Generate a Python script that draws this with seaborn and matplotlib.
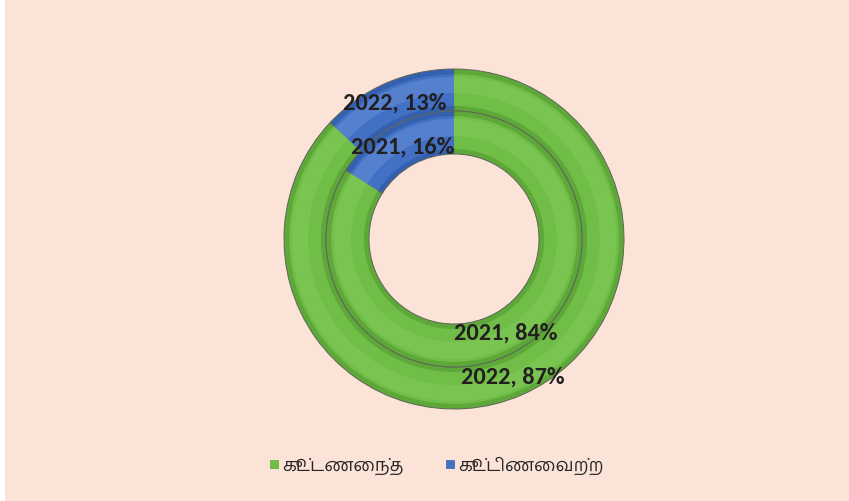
import matplotlib
matplotlib.use("Agg")
import numpy as np
import matplotlib.pyplot as plt
from matplotlib.lines import Line2D
import seaborn as sns

sns.set_style("white")
plt.rcParams['font.family'] = ['Carlito', 'Lato', 'DejaVu Sans']

# data (percent)
years = ["2021", "2022"]
categories = ["கூட்டணைந்த", "கூட்டிணைவற்ற"]
joined = [84, 87]        # கூட்டணைந்த (green)
not_joined = [16, 13]    # கூட்டிணைவற்ற (blue)

green, green_dark, green_light = "#70bd48", "#5ea83a", "#9ad96e"
blue, blue_dark, blue_light = "#4170c4", "#3560b0", "#8fb3ea"

fig = plt.figure(figsize=(8.49, 5.02), dpi=100)
fig.patch.set_facecolor("white")
# peach background panel (thin white margin at the left, as in the original)
fig.add_artist(plt.Rectangle((5 / 849, 0), 1, 1, transform=fig.transFigure,
                             facecolor="#fce3d7", edgecolor="none", zorder=0))

ax = fig.add_axes([284 / 849, 92 / 502, 340 / 849, 340 / 502])
ax.set_facecolor("none")

rings = [(1.0, 0.247, 1), (0.753, 0.253, 0)]   # (radius, width, year index)
for radius, width, i in rings:
    vals = [not_joined[i], joined[i]]
    wedges, _ = ax.pie(vals, radius=radius, startangle=90, counterclock=True,
                       colors=[blue_dark, green_dark],
                       wedgeprops=dict(width=width, edgecolor="#5d6658", linewidth=0.7))
    # lighter inner facet for the bevel look
    ax.pie(vals, radius=radius - 0.03, startangle=90, counterclock=True,
           colors=[blue, green],
           wedgeprops=dict(width=width - 0.06, edgecolor="none"))
    ax.pie(vals, radius=radius - 0.045, startangle=90, counterclock=True,
           colors=[blue_light, green_light],
           wedgeprops=dict(width=width - 0.15, edgecolor="none", alpha=0.25))
    for w, v in zip(wedges, vals):
        ang = np.deg2rad((w.theta1 + w.theta2) / 2)
        rr = w.r - w.width / 2
        ax.text(rr * np.cos(ang), rr * np.sin(ang), f"{years[i]}, {v}%",
                ha="center", va="center", fontsize=17.5, fontweight="heavy",
                color="#231f20", zorder=5)

ax.set_xlim(-1, 1)
ax.set_ylim(-1, 1)
ax.set_aspect("equal")
ax.axis("off")

handles = [Line2D([], [], marker="s", linestyle="none", markersize=6,
                  markerfacecolor=c, markeredgecolor=e, markeredgewidth=0.5)
           for c, e in [(green, green_dark), (blue, blue_dark)]]
fig.legend(handles, categories, loc="center", bbox_to_anchor=(435 / 849, 1 - 466 / 502),
           ncol=2, frameon=False, handletextpad=0.05, columnspacing=2.2,
           handlelength=0.8, prop={"family": ["Hind Madurai", "DejaVu Sans"], "size": 13})

fig.savefig("out.png", dpi=100, facecolor=fig.get_facecolor())
